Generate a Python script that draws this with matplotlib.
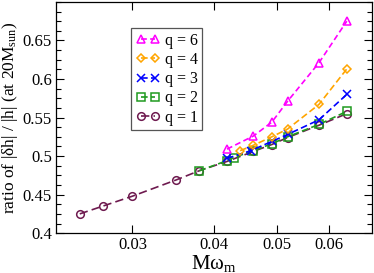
import matplotlib
matplotlib.use('Agg')
import matplotlib.pyplot as plt
from matplotlib.ticker import FixedLocator, MultipleLocator, NullLocator, FixedFormatter

plt.rcParams['font.family'] = ['Liberation Serif', 'DejaVu Serif']
plt.rcParams['mathtext.fontset'] = 'custom'
plt.rcParams['mathtext.rm'] = 'Liberation Serif'
plt.rcParams['mathtext.it'] = 'Liberation Serif'

# data
x1 = [0.0249, 0.0270, 0.0300, 0.0350, 0.0380, 0.0419, 0.0460, 0.0491, 0.0519, 0.0580, 0.0640]
y1 = [0.425, 0.435, 0.448, 0.469, 0.481, 0.493, 0.506, 0.515, 0.524, 0.540, 0.555]

x2 = [0.0380, 0.0419, 0.0429, 0.0460, 0.0491, 0.0519, 0.0580, 0.0640]
y2 = [0.481, 0.494, 0.498, 0.507, 0.516, 0.525, 0.541, 0.558]

x3 = [0.0419, 0.0456, 0.0491, 0.0519, 0.0580, 0.0640]
y3 = [0.497, 0.507, 0.519, 0.528, 0.547, 0.580]

x4 = [0.0439, 0.0460, 0.0491, 0.0519, 0.0580, 0.0640]
y4 = [0.507, 0.514, 0.525, 0.535, 0.567, 0.613]

x6 = [0.0419, 0.0460, 0.0491, 0.0519, 0.0580, 0.0640]
y6 = [0.509, 0.526, 0.544, 0.571, 0.621, 0.675]

series = [
    (x1, y1, 'q = 1', '#6e1a4f', 'o', (5, 2.5)),
    (x2, y2, 'q = 2', '#1f9a1f', 's', (4, 2)),
    (x3, y3, 'q = 3', '#0000ff', 'x', (4, 2)),
    (x4, y4, 'q = 4', '#ffa500', 'D', (4, 2)),
    (x6, y6, 'q = 6', '#ff00ff', '^', (3.5, 2)),
]

xticks = [0.03, 0.04, 0.05, 0.06]

fig = plt.figure(figsize=(3.74, 2.73), dpi=100)
ax = fig.add_axes([0.150, 0.146, 0.845, 0.847])

handles = []
for xs, ys, lab, col, mk, dash in series:
    ms = 4.5 if mk == 'D' else 5.5
    h, = ax.plot(xs, ys, linestyle='--', dashes=dash, color=col, lw=1.2,
                 marker=mk, markersize=ms, markerfacecolor='none',
                 markeredgecolor=col, markeredgewidth=1.1, label=lab)
    handles.append(h)

ax.set_xscale('log')
ax.set_xlim(0.0229, 0.0700)
ax.set_ylim(0.4, 0.7)
ax.xaxis.set_major_locator(FixedLocator(xticks))
ax.xaxis.set_major_formatter(FixedFormatter([str(t) for t in xticks]))
ax.xaxis.set_minor_locator(NullLocator())
ax.set_yticks([0.4, 0.45, 0.5, 0.55, 0.6, 0.65])
ax.set_yticklabels(['0.4', '0.45', '0.5', '0.55', '0.6', '0.65'])
ax.yaxis.set_minor_locator(MultipleLocator(0.0125))

ax.tick_params(which='both', direction='in', top=True, right=True, labelsize=12, pad=3)
ax.tick_params(which='major', length=6, width=0.8)
ax.tick_params(which='minor', length=3.5, width=0.8)
for s in ax.spines.values():
    s.set_linewidth(0.9)

ax.set_xlabel('Mω$_{\\mathrm{m}}$', fontsize=15, labelpad=0)
ax.set_ylabel('ratio of |δh| / |h| (at 20M$_{\\mathrm{sun}}$)', fontsize=12.5, labelpad=2)

leg = ax.legend(handles[::-1], [h.get_label() for h in handles[::-1]],
                loc='upper left', bbox_to_anchor=(0.237, 0.887), borderaxespad=0,
                numpoints=2, handlelength=1.5, handletextpad=0.3, labelspacing=0.2,
                fontsize=11.5, fancybox=False, framealpha=1, edgecolor='#555555',
                borderpad=0.3)
leg.get_frame().set_linewidth(0.9)

fig.savefig('out.png', dpi=100)
